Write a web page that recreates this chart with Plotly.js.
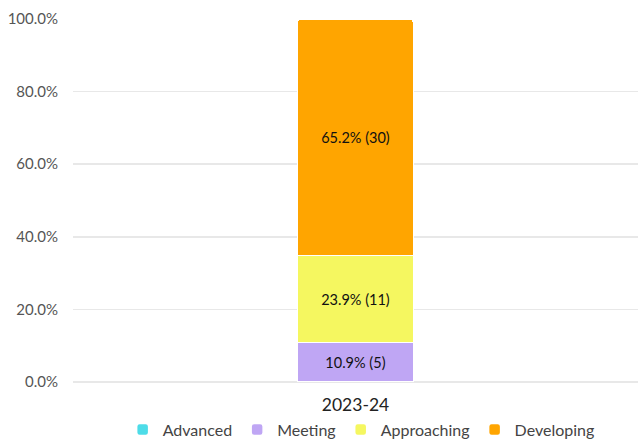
<!DOCTYPE html>
<html><head><meta charset="utf-8">
<script src="https://cdn.plot.ly/plotly-3.0.1.min.js"></script>
<style>html,body{margin:0;padding:0;background:#fff}#chart{width:642px;height:439px}</style>
</head><body><div id="chart"></div>
<script>
const categories = ['2023-24'];
const seriesNames = ['Advanced', 'Meeting', 'Approaching', 'Developing'];
const percents = [[0], [10.9], [23.9], [65.2]];
const counts = [[0], [5], [11], [30]];
const colors = ['#4DDCE8', '#BFA6F4', '#F5F760', '#FFA500'];
const yTicks = [0, 20, 40, 60, 80, 100];

const traces = seriesNames.map((name, i) => ({
  type: 'bar',
  name: name,
  x: categories,
  y: percents[i],
  customdata: counts[i],
  text: percents[i].map((p, j) => p > 0 ? p.toFixed(1) + '% (' + counts[i][j] + ')' : ''),
  texttemplate: '%{text}',
  textposition: 'inside',
  insidetextanchor: 'middle',
  textfont: {family: 'Lato, sans-serif', size: 14.5, color: '#111'},
  marker: {color: colors[i], line: {color: '#ffffff', width: 1.5}},
  width: 0.205,
  hoverinfo: 'none'
}));

const layout = {
  width: 642, height: 439,
  barmode: 'stack',
  barcornerradius: 3,
  margin: {l: 73, r: 4, t: 19, b: 57, autoexpand: false},
  paper_bgcolor: '#fff', plot_bgcolor: '#fff',
  font: {family: 'Lato, sans-serif'},
  showlegend: true,
  legend: {orientation: 'h', x: 0.51, xanchor: 'center', xref: 'paper', y: -0.084, yanchor: 'top', yref: 'paper',
    bgcolor: 'rgba(0,0,0,0)',
    font: {family: 'Lato, sans-serif', size: 16, color: '#444'}, traceorder: 'normal',
    itemwidth: 30},
  xaxis: {type: 'category', range: [-0.5, 0.5], showgrid: false, showline: false, zeroline: false,
    tickfont: {family: 'Lato, sans-serif', size: 17.5, color: '#222'}, ticks: '', ticklen: 0, ticklabelstandoff: 10},
  yaxis: {range: [0, 100], tickvals: yTicks, ticktext: yTicks.map(v => v.toFixed(1) + '%'),
    showgrid: true, gridcolor: '#e8e8e8', gridwidth: 1.5, zeroline: true, zerolinecolor: '#e8e8e8', zerolinewidth: 1.5,
    tickfont: {family: 'Lato, sans-serif', size: 15, color: '#555'}, ticks: '', showline: false, ticklabelstandoff: 14}
};

Plotly.newPlot('chart', traces, layout, {displayModeBar: false, staticPlot: true});
</script></body></html>
